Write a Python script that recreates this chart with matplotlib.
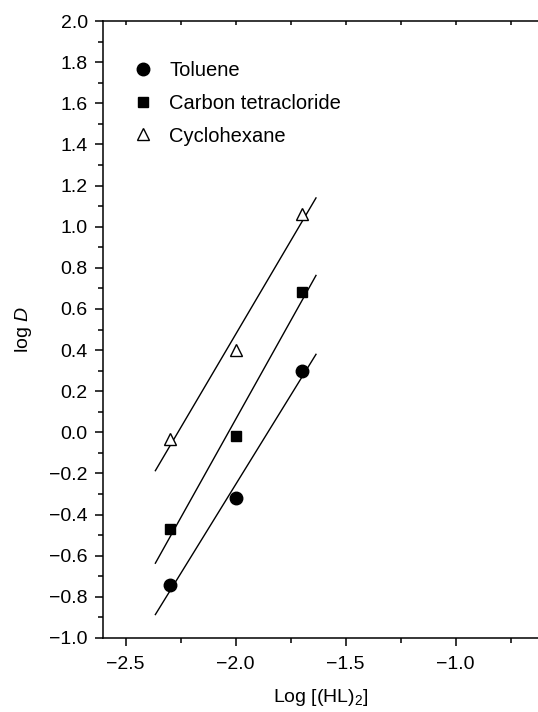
import numpy as np
import matplotlib.pyplot as plt
from matplotlib.ticker import MultipleLocator

plt.rcParams['font.family'] = ['Liberation Sans', 'DejaVu Sans']
plt.rcParams['mathtext.fontset'] = 'custom'
plt.rcParams['mathtext.rm'] = 'Liberation Sans'
plt.rcParams['mathtext.it'] = 'Liberation Sans:italic'

# data
log_hl = [-2.3, -2.0, -1.7]
toluene = [-0.74, -0.32, 0.30]
ccl4 = [-0.47, -0.02, 0.68]
cyclohexane = [-0.03, 0.40, 1.06]

fig = plt.figure(figsize=(5.38, 7.12), dpi=100)
ax = fig.add_axes([103 / 538, 1 - 638 / 712, 435 / 538, 617 / 712])

fit_x = np.array([-2.365, -1.635])
series = [
    (toluene, 'o', 'k', 'Toluene', 9),
    (ccl4, 's', 'k', 'Carbon tetracloride', 7.5),
    (cyclohexane, '^', 'white', 'Cyclohexane', 9),
]
for ys, mk, fc, lab, ms in series:
    k, b = np.polyfit(log_hl, ys, 1)
    ax.plot(fit_x, k * fit_x + b, color='k', lw=1.0, zorder=1)
    ax.plot(log_hl, ys, linestyle='none', marker=mk, ms=ms, mfc=fc,
            mec='k', mew=1.0, label=lab, zorder=2)

ax.set_xlim(-2.603, -0.626)
ax.set_ylim(-1.0, 2.0)
ax.xaxis.set_minor_locator(MultipleLocator(0.25))
ax.yaxis.set_minor_locator(MultipleLocator(0.1))
ax.set_xticks([-2.5, -2.0, -1.5, -1.0])
ax.set_xticklabels(['\u22122.5', '\u22122.0', '\u22121.5', '\u22121.0'])
yt = np.round(np.arange(-1.0, 2.01, 0.2), 1)
ax.set_yticks(yt)
ax.set_yticklabels([('\u2212%.1f' % abs(v)) if v < -1e-9 else '%.1f' % abs(v) for v in yt])

ax.spines['right'].set_visible(False)
for s in ['left', 'bottom', 'top']:
    ax.spines[s].set_linewidth(1.1)
ax.tick_params(which='both', direction='out', labelsize=14, width=1.1)
ax.tick_params(which='major', length=6)
ax.tick_params(which='minor', length=3.5)
ax.tick_params(axis='x', which='both', top=True, labeltop=False)
ax.tick_params(axis='x', which='major', pad=7)
ax.tick_params(axis='y', which='major', pad=5)
# top ticks point inward
for t in ax.xaxis.get_major_ticks() + ax.xaxis.get_minor_ticks():
    t.tick2line.set_marker(3)
    t.tick2line.set_markersize(3)

ax.set_xlabel('Log [(HL)$_2$]', fontsize=14, labelpad=10)
ax.set_ylabel('log $\\mathit{D}$', fontsize=14, labelpad=11)

ax.legend(loc='upper left', bbox_to_anchor=(0.05, 0.948), frameon=False,
          fontsize=14.5, handlelength=1.0, handletextpad=0.8, labelspacing=0.68,
          borderaxespad=0.0)

fig.savefig('out.png', dpi=100)
